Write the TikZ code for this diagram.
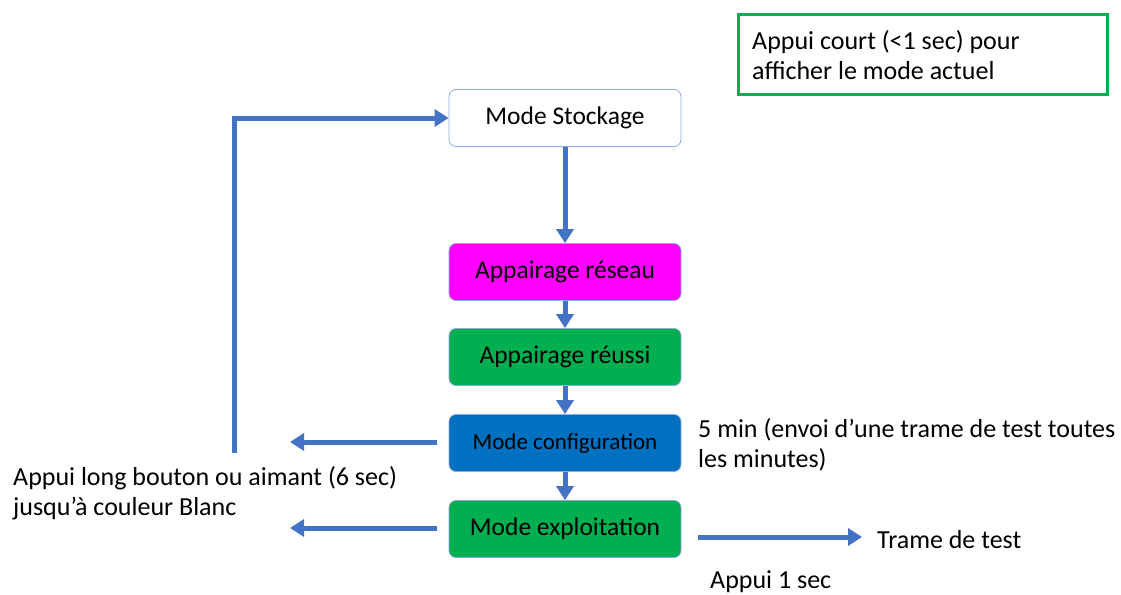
\documentclass[tikz,border=0pt]{standalone}
\usepackage{fontspec}
\setmainfont{Carlito}
\usetikzlibrary{arrows.meta,positioning}
\definecolor{arrowblue}{HTML}{4472C4}
\definecolor{boxborder}{HTML}{8FAADC}
\definecolor{magentabox}{HTML}{FF00FF}
\definecolor{greenbox}{HTML}{00B050}
\definecolor{bluebox}{HTML}{0070C0}
\tikzset{
  modebox/.style={rounded corners=7pt, minimum width=232pt, minimum height=57pt, draw=boxborder, line width=0.8pt, inner sep=0pt, font=\fontsize{25.5}{28}\selectfont},
  flow/.style={draw=arrowblue, line width=5pt, -{Triangle[length=14pt,width=17pt]}},
  label/.style={inner sep=0pt, anchor=west, align=left, font=\fontsize{26}{30}\selectfont}
}
\begin{document}
\begin{tikzpicture}[x=1pt,y=-1pt]
\useasboundingbox (0,0) rectangle (1121,594);
\node[modebox, fill=white] (stock) at (565,118) {Mode Stockage};
\node[modebox, fill=magentabox] (reseau) at (565,272) {Appairage réseau};
\node[modebox, fill=greenbox] (reussi) at (565,357) {Appairage réussi};
\node[modebox, fill=bluebox, font=\fontsize{23}{26}\selectfont] (config) at (565,443) {Mode configuration};
\node[modebox, fill=greenbox] (exploit) at (565,529) {Mode exploitation};

\draw[flow] (stock) -- (reseau);
\draw[flow] (reseau) -- (reussi);
\draw[flow] (reussi) -- (config);
\draw[flow] (config) -- (exploit);

\coordinate (cfgL) at (437,442);
\coordinate (cfgEnd) at (290,442);
\coordinate (expL) at (437,528);
\coordinate (expEnd) at (290,528);
\draw[flow] (cfgL) -- (cfgEnd);
\draw[flow] (expL) -- (expEnd);

\coordinate (loopStart) at (234,453);
\draw[flow] (loopStart) |- (stock.west);

\coordinate (expR) at (698,537);
\coordinate (trameEnd) at (862,537);
\draw[flow] (expR) -- (trameEnd);
\node[label] (trame) at (877,540) {Trame de test};

\node[label] (longtxt) at (13,493) {Appui long bouton ou aimant (6 sec)\\jusqu’à couleur Blanc};
\node[label] (cfgtxt) at (698,445) {5 min (envoi d’une trame de test toutes\\les minutes)};
\node[label] (appui1) at (710,582) {Appui 1 sec};

\node[draw=greenbox, line width=3pt, minimum width=369pt, minimum height=80pt, anchor=north west] (note) at (737,13) {};
\node[label] (notetxt) at (752,55) {Appui court (<1 sec) pour\\afficher le mode actuel};
\end{tikzpicture}
\end{document}
